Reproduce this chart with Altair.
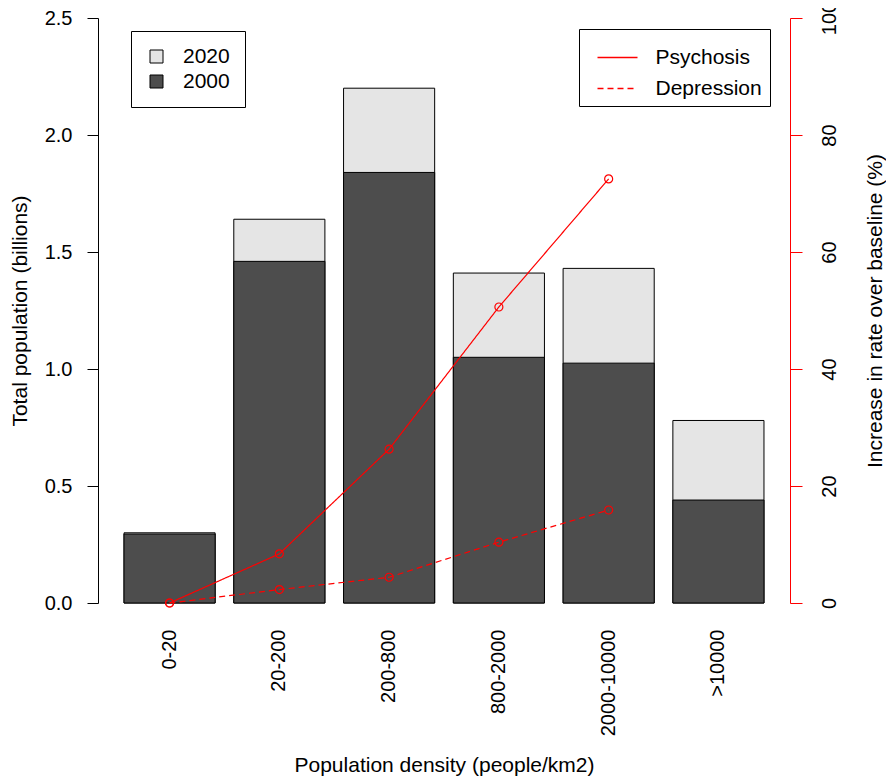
import altair as alt
import pandas as pd

categories = ["0-20", "20-200", "200-800", "800-2000", "2000-10000", ">10000"]
pop_2000 = [0.295, 1.46, 1.84, 1.05, 1.025, 0.44]
pop_2020 = [0.30, 1.64, 2.20, 1.41, 1.43, 0.78]
line_categories = ["0-20", "20-200", "200-800", "800-2000", "2000-10000"]
psychosis = [0.0, 8.4, 26.3, 50.6, 72.5]
depression = [0.0, 2.3, 4.4, 10.4, 15.9]

bars = pd.DataFrame(
    [{"cat": c, "year": "2020", "pop": v} for c, v in zip(categories, pop_2020)]
    + [{"cat": c, "year": "2000", "pop": v} for c, v in zip(categories, pop_2000)]
)
lines = pd.DataFrame(
    [{"cat": c, "series": "Psychosis", "rate": v} for c, v in zip(line_categories, psychosis)]
    + [{"cat": c, "series": "Depression", "rate": v} for c, v in zip(line_categories, depression)]
)

FONT = "Liberation Sans"
FS = 20
TFS = 21
xscale = alt.Scale(domain=categories, paddingInner=0.17, paddingOuter=0.237)
xenc = alt.X(
    "cat:N",
    scale=xscale,
    sort=categories,
    title="Population density (people/km2)",
    axis=alt.Axis(
        labelAngle=270, domain=False, ticks=False, labelPadding=26,
        titlePadding=19, labelFontSize=FS, titleFontSize=TFS,
        labelColor="black", titleColor="black", titleFontWeight="normal",
    ),
)

bar_layer = alt.Chart(bars).mark_bar(stroke="black", strokeWidth=1).encode(
    x=xenc,
    y=alt.Y(
        "pop:Q",
        stack=None,
        scale=alt.Scale(domain=[0, 2.5], nice=False, zero=True),
        title="Total population (billions)",
        axis=alt.Axis(
            values=[0, 0.5, 1.0, 1.5, 2.0, 2.5], format=".1f", grid=False,
            tickSize=11, labelPadding=15, labelFontSize=FS, titleFontSize=TFS,
            titlePadding=14, domainColor="black", tickColor="black",
            labelColor="black", titleColor="black", titleFontWeight="normal",
        ),
    ),
    color=alt.Color(
        "year:N",
        scale=alt.Scale(domain=["2020", "2000"], range=["#e5e5e5", "#4d4d4d"]),
        legend=alt.Legend(
            title=None, orient="none", legendX=33, legendY=13,
            symbolType="square", symbolSize=169, symbolStrokeColor="black",
            symbolStrokeWidth=1, labelFontSize=21, labelOffset=16,
            strokeColor="black", padding=15, rowPadding=3, fillColor="white",
            symbolOpacity=1,
        ),
    ),
)

rate_y = alt.Y(
    "rate:Q",
    scale=alt.Scale(domain=[0, 100], nice=False),
    title="Increase in rate over baseline (%)",
    axis=alt.Axis(
        orient="right", values=[0, 20, 40, 60, 80, 100], grid=False,
        tickSize=12, labelAngle=270, labelPadding=17, labelFontSize=FS,
        titleFontSize=TFS, titleAngle=270, titlePadding=46,
        domainColor="red", tickColor="red", labelColor="black",
        titleColor="black", titleFontWeight="normal",
    ),
)

line_layer = alt.Chart(lines).mark_line(color="red", strokeWidth=1.2).encode(
    x=xenc,
    y=rate_y,
    strokeDash=alt.StrokeDash(
        "series:N",
        scale=alt.Scale(domain=["Psychosis", "Depression"], range=[[1, 0], [6, 4]]),
        legend=alt.Legend(
            title=None, orient="none", legendX=481, legendY=11,
            symbolType="stroke", symbolSize=1600, symbolStrokeColor="red",
            symbolStrokeWidth=1.5, labelFontSize=21, labelOffset=17,
            symbolOffset=10,
            strokeColor="black", padding=7.5, rowPadding=-9, fillColor="white",
        ),
    ),
)

point_layer = alt.Chart(lines).mark_point(
    color="red", filled=False, shape="circle", size=64, strokeWidth=1.2, opacity=1
).encode(x=xenc, y=rate_y)

right = alt.layer(line_layer, point_layer)

chart = (
    alt.layer(bar_layer, right)
    .resolve_scale(y="independent", strokeDash="independent", color="independent")
    .properties(
        width=692, height=585,
        autosize=alt.AutoSizeParams(type="none"),
        padding={"left": 90, "top": 10, "right": 96, "bottom": 173},
    )
    .configure(font=FONT)
    .configure_view(stroke=None)
    .configure_legend(labelFont=FONT, labelColor="black")
)

chart.save("out.html", embed_options={"renderer": "svg", "actions": False})
